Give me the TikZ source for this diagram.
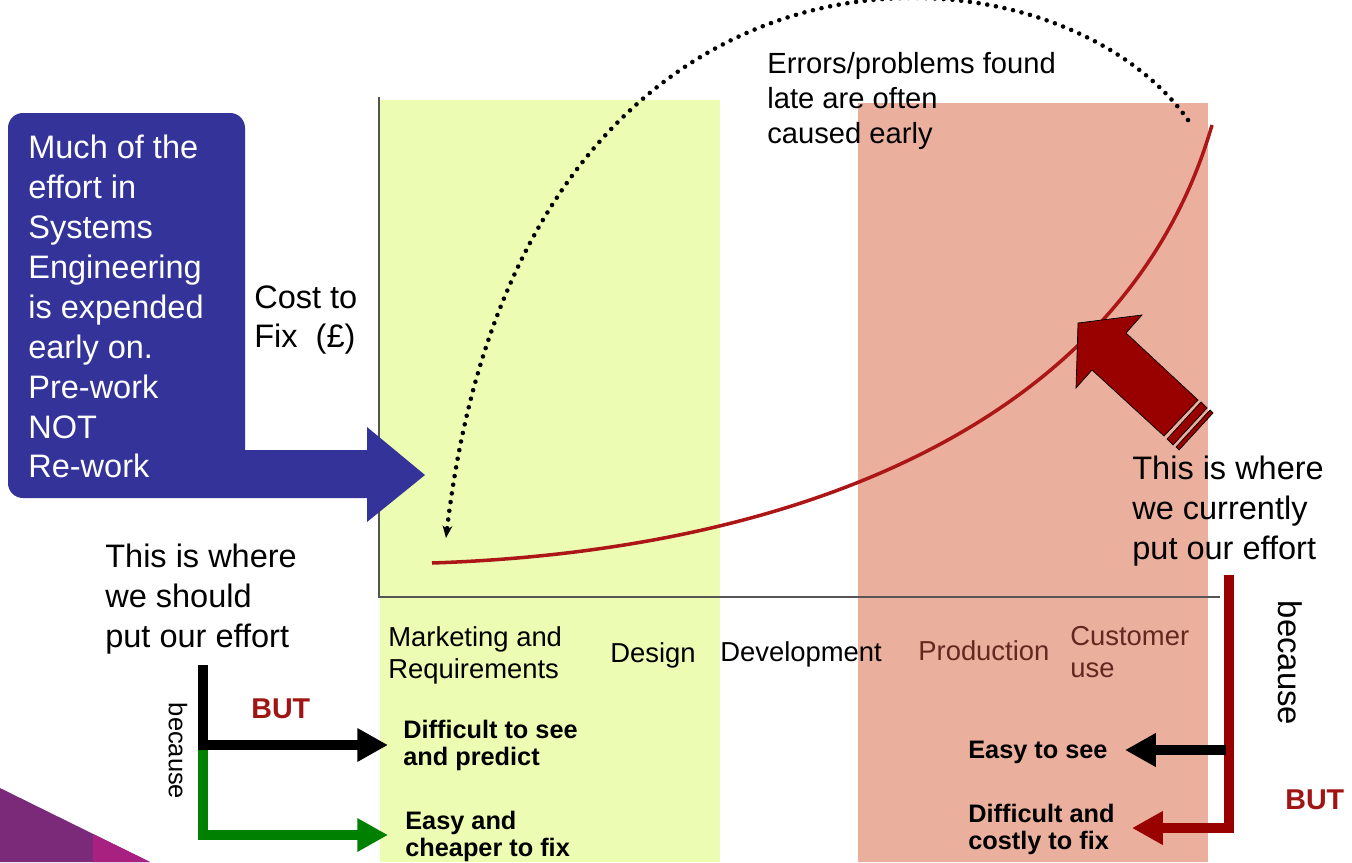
\documentclass[tikz,border=0pt]{standalone}
\usepackage{fontspec}
\setmainfont{Liberation Sans}
\usetikzlibrary{arrows.meta}

\definecolor{sebox}{RGB}{51,51,153}
\definecolor{earlyband}{RGB}{236,252,178}
\definecolor{lateband}{RGB}{235,175,157}
\definecolor{costred}{RGB}{172,22,22}
\definecolor{bigred}{RGB}{153,0,0}
\definecolor{butred}{RGB}{160,20,20}
\definecolor{phasebrown}{RGB}{100,40,32}
\definecolor{axisgrey}{RGB}{85,85,85}
\definecolor{fixgreen}{RGB}{0,128,0}
\definecolor{slatepurple}{RGB}{123,42,122}
\definecolor{slatemagenta}{RGB}{168,32,128}

\begin{document}
\begin{tikzpicture}[x=0.02cm, y=-0.02cm,
    txt/.style={inner sep=0pt, anchor=north west, align=left},
    big/.style={txt, font=\fontsize{18.5}{22.7}\selectfont},
    note/.style={txt, font=\fontsize{16.6}{19.8}\selectfont},
    phase/.style={txt, font=\fontsize{15.6}{18.1}\selectfont},
    small/.style={txt, font=\bfseries\fontsize{14.4}{15.4}\selectfont},
    but/.style={txt, text=butred, font=\bfseries\fontsize{16.3}{18}\selectfont},
    why/.style={inner sep=0pt, rotate=-90},
    flow/.style={line width=5.5pt, -{Triangle[length=17.5pt, width=18pt]}},
    bigarrow/.style={fill=bigred, draw=black, line width=0.4pt}]
    \useasboundingbox (0,0) rectangle (1352,862);

    % life-cycle bands
    \fill[earlyband] (380,100) rectangle (720,862);
    \fill[lateband] (858,103) rectangle (1208,862);

    % corner decoration
    \fill[slatepurple] (0,788) -- (150,862) -- (0,862) -- cycle;
    \fill[slatemagenta] (93,834) -- (150,862) -- (93,862) -- cycle;

    % axes and cost curve
    \coordinate (origin) at (379,597);
    \draw[axisgrey, line width=1.2pt] (379,97) -- (origin) -- (1220,597);
    \draw[costred, line width=2pt] (432,563) .. controls (820,550) and (1130,410) .. (1212,125);

    % late errors come from early on
    \draw[line width=2.6pt, dash pattern=on 0pt off 5pt, line cap=round,
        -{Stealth[length=7pt, width=5.5pt]}]
        (1188,120) .. controls (1050,-75) and (520,-100) .. (446,538);

    % blue call-out with arrow
    \fill[sebox, rounded corners=8.5pt] (8,113) rectangle (245,498);
    \fill[sebox] (230,450) -- (367,450) -- (367,427) -- (425,475) -- (367,522) -- (367,498) -- (230,498) -- cycle;

    % red block arrow
    \filldraw[bigarrow] (1078,323) -- (1142,315) -- (1126,333) -- (1198,400) -- (1164,436) -- (1092,370) -- (1076,388) -- cycle;
    \filldraw[bigarrow] (1201,402) -- (1207,408) -- (1173,445) -- (1167,439) -- cycle;
    \filldraw[bigarrow] (1210,410) -- (1213,413) -- (1179,450) -- (1176,447) -- cycle;

    \node[big, text=white] (effort) at (28,135) {Much of the\\effort in\\Systems\\Engineering\\is expended\\early on.\\Pre-work\\NOT\\Re-work};
    \node[big] (costaxis) at (254,285) {Cost to\\Fix\ \ (£)};
    \node[note] (errors) at (767,52) {Errors/problems found\\late are often\\caused early};
    \node[big] (current) at (1132,456) {This is where\\we currently\\put our effort};
    \node[big] (should) at (105,544) {This is where\\we should\\put our effort};

    % phases
    \node[phase] (marketing) at (388,626) {Marketing and\\Requirements};
    \node[phase] (design) at (610,642) {Design};
    \node[phase] (development) at (720,641) {Development};
    \node[phase, text=phasebrown] (production) at (918,640) {Production};
    \node[phase, text=phasebrown] (customer) at (1070,626) {Customer\\use};

    \node[small] (hardsee) at (403,720) {Difficult to see\\and predict};
    \node[small] (cheapfix) at (405,811) {Easy and\\cheaper to fix};
    \node[small] (easysee) at (968,741) {Easy to see};
    \node[small] (costlyfix) at (968,804) {Difficult and\\costly to fix};
    \node[but] (butleft) at (251,698) {BUT};
    \node[but] (butright) at (1285,789) {BUT};
    \node[why, font=\fontsize{14.5}{16}\selectfont] (becauseleft) at (178,751) {because};
    \node[why, font=\fontsize{18.7}{20}\selectfont] (becauseright) at (1290,663) {because};

    % branches
    \coordinate (ltop) at (203,665);
    \coordinate (lsplit) at (203,745);
    \coordinate (ltipA) at (388,745);
    \coordinate (ltipB) at (388,835);
    \draw[flow, fixgreen] (lsplit) |- (ltipB);
    \draw[flow, black] (ltop) |- (ltipA);

    \coordinate (rtop) at (1229,575);
    \coordinate (rsplit) at (1226,750);
    \coordinate (rtipA) at (1125,750);
    \coordinate (rtipB) at (1132,828);
    \draw[flow, bigred] (rtop) |- (rtipB);
    \draw[flow, black] (rsplit) -- (rtipA);
\end{tikzpicture}
\end{document}
